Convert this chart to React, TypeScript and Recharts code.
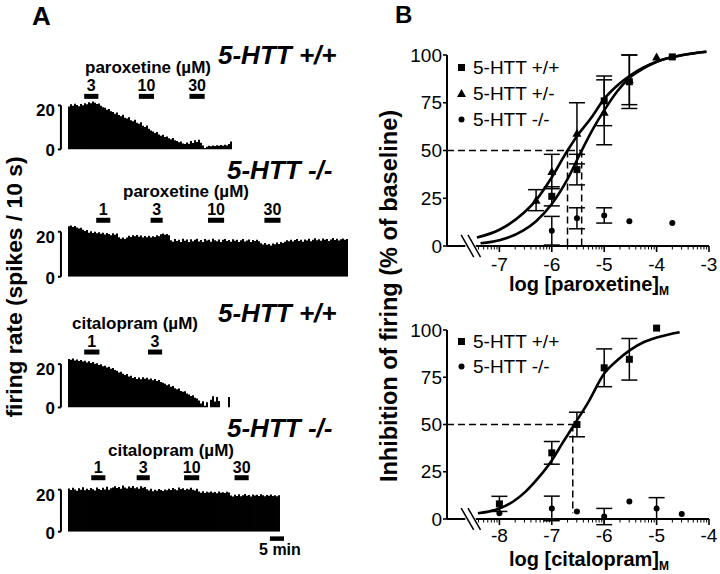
import React from "react";
import {
  Bar,
  BarChart,
  ComposedChart,
  ErrorBar,
  Legend,
  Line,
  ReferenceLine,
  Scatter,
  XAxis,
  YAxis,
} from "recharts";

const FONT = "'Liberation Sans', Arial, Helvetica, sans-serif";
const INK = "#000";

// ---------- A: firing rate (spikes / 10 s), one value per time bin ----------
const wtParoxRate = [
  19.5, 20.5, 19.8, 20.8, 20.2, 19.6, 20.6, 20.1, 21.0, 20.5,
  21.4, 21.0, 21.8, 21.2, 20.6, 20.9, 19.8, 19.2, 18.9, 18.0,
  18.4, 17.3, 17.0, 16.2, 16.8, 15.6, 15.1, 15.7, 14.4, 14.0,
  14.6, 13.2, 12.8, 13.5, 12.1, 11.6, 12.3, 10.8, 10.2, 10.9,
  9.4, 8.6, 8.1, 7.4, 7.9, 6.8, 6.2, 6.7, 5.6, 5.9,
  5.1, 4.6, 5.2, 4.1, 3.8, 3.2, 3.6, 2.7, 2.4, 3.1,
  2.6, 3.8, 2.9, 4.2, 3.4, 4.4, 3.0, 1.8, 0.6, 1.2,
  1.6, 1.4, 1.8, 1.5, 1.9, 1.6, 2.0, 1.7, 2.1, 1.8,
  2.4, 3.6,
];
const koParoxRate = [
  22.5, 22.8, 22.1, 22.6, 21.9, 21.4, 21.8, 20.9,
  20.3, 20.8, 19.6, 20.2, 19.4, 20.0, 19.3,
  19.8, 19.1, 19.6, 18.8, 19.5, 19.0, 18.5, 19.3, 18.7, 19.2,
  17.6, 16.9, 17.4, 16.8, 17.5, 18.2, 17.7, 18.4,
  18.0, 18.6, 17.8, 18.3, 17.5, 18.1, 17.6, 18.2, 17.4, 18.0, 17.7, 18.4, 18.0,
  18.9, 19.2, 18.7, 19.0, 18.5,
  16.2, 15.6, 16.8, 15.9, 16.5, 15.4, 16.9, 16.0, 16.6, 15.5,
  16.7, 15.8, 16.4, 16.9, 15.7, 16.3, 15.4, 16.8, 16.1, 16.5,
  15.6, 16.9, 16.2, 15.8, 16.6, 15.5, 16.4, 16.8, 15.9, 16.3,
  15.6, 16.7, 16.0, 16.5, 15.4, 16.2, 16.8, 15.7, 16.1, 16.6,
  15.5, 16.3, 15.9, 16.4, 15.8,
  14.9, 14.3, 15.0, 14.2, 14.6, 13.9, 14.8, 14.4, 15.2, 14.6, 15.4, 15.0,
  15.6, 16.2, 15.8, 16.5, 15.7, 16.3, 16.8, 15.9, 16.4, 15.6,
  16.6, 16.1, 16.9, 15.8, 16.5, 17.1, 16.2, 16.7, 16.0, 17.0,
  16.4, 16.8, 15.9, 16.6, 17.2, 16.3, 16.9, 16.1, 16.7, 17.0,
  16.4, 16.8,
];
const wtCitalRate = [
  22.4, 22.0, 22.6, 21.7, 22.1, 21.5, 21.9, 21.2,
  21.6, 20.8, 21.3, 20.5, 21.0, 20.2,
  20.4, 19.6, 19.9, 19.0, 19.3, 18.5,
  18.8, 17.9, 18.2, 17.3, 17.0, 16.2,
  16.5, 15.6, 15.0, 15.4, 14.3, 14.7,
  13.6, 14.1, 13.2, 13.8, 13.0, 13.9, 13.3, 13.7, 12.9,
  13.4, 12.6, 13.1, 12.2, 12.7, 11.8,
  11.4, 11.0, 10.3, 10.7, 9.6, 9.9,
  8.9, 8.4, 8.7, 7.6, 7.2, 7.5,
  6.4, 6.0, 5.3, 5.6, 4.5, 4.1,
  3.2, 1.8, 2.9, 0.8, 2.4,
  0, 3.6, 5.2, 2.8, 4.8, 3.0,
  0, 0, 0, 0,
  4.8, 0,
];
const koCitalRate = [
  20.6, 19.8, 20.9, 20.1, 19.5, 20.7, 20.0, 21.2, 19.7, 20.4,
  19.9, 20.8, 20.2, 19.6, 21.0, 20.3, 19.8, 20.9, 20.1, 21.4,
  20.0, 20.7, 21.1,
  21.6, 20.8, 21.3, 20.4, 22.0, 21.1, 20.6, 21.5, 20.9, 21.8,
  20.7, 21.2, 20.5, 21.6, 20.9, 21.3,
  20.2, 19.6, 20.5, 19.3, 20.0, 19.5, 20.3, 19.8, 19.4, 20.1, 19.7,
  20.4, 19.9, 20.8, 20.2, 19.7, 21.0, 20.3, 20.7, 19.9, 20.5,
  20.1, 20.9, 20.0, 19.6, 20.4,
  19.1, 18.6, 19.3, 18.4, 19.0, 18.7, 19.2, 18.5, 18.9, 18.3,
  19.1, 18.6, 18.8, 18.4, 19.0, 18.7,
  17.2, 16.8, 17.6, 17.0, 17.8, 16.9, 17.4, 17.9, 17.1, 17.5,
  16.8, 17.7, 17.2, 17.6, 17.0, 17.8, 17.3, 16.9, 17.5, 17.1,
  17.7, 17.0, 17.4, 16.9, 17.3,
];
const rateTicks = [0, 20];

// drug applications, in time bins, dose in µM
const wtParoxDrugs = [
  { from: 8, to: 15, dose: "3" },
  { from: 35, to: 42.5, dose: "10" },
  { from: 60, to: 67.5, dose: "30" },
];
const koParoxDrugs = [
  { from: 14, to: 21, dose: "1" },
  { from: 41, to: 47, dose: "3" },
  { from: 69.5, to: 77.5, dose: "10" },
  { from: 97.5, to: 105.5, dose: "30" },
];
const wtCitalDrugs = [
  { from: 8, to: 15.5, dose: "1" },
  { from: 39.5, to: 46.5, dose: "3" },
];
const koCitalDrugs = [
  { from: 11.5, to: 18.5, dose: "1" },
  { from: 34, to: 40.5, dose: "3" },
  { from: 57.5, to: 65, dose: "10" },
  { from: 82.5, to: 89.5, dose: "30" },
];
const scaleBar = { from: 100, to: 107, label: "5 min" };

// ---------- B: inhibition of firing (% of baseline) vs log[drug]M ----------
const paroxTicks = [-7, -6, -5, -4, -3];
const paroxWtX = [-6, -5.52, -5, -4.52, -3.7];
const paroxWtY = [26, 40, 76, 86, 99];
const paroxWtErr = [5, 8, 13, 14, 0];
const paroxHetX = [-6.3, -6, -5.52, -5, -4.52, -4];
const paroxHetY = [24, 39, 59, 70, 87, 99];
const paroxHetErr = [5.5, 9, 16, 17, 13, 0];
const paroxKoX = [-6, -5.52, -5, -4.52, -3.7];
const paroxKoY = [8, 14.5, 16, 13, 12];
const paroxKoErr = [7.5, 5.5, 4, 0, 0];
const paroxWtFitX = [-7.36, -7, -6.55, -6.3, -6, -5.7, -5.43, -5.2, -5, -4.75, -4.52, -4.25, -4, -3.5, -3.05];
const paroxWtFitY = [1.4, 3, 8, 13, 22, 35, 50, 62, 71, 81, 88, 93, 96.5, 100, 101.7];
const paroxHetFitX = [-7.43, -7, -6.55, -6.3, -6, -5.7, -5.52, -5.25, -5, -4.75, -4.52, -4.25, -4, -3.5, -3.05];
const paroxHetFitY = [4.4, 8.5, 17, 24, 36, 50, 57.5, 67, 77, 84, 89, 93.5, 96.5, 100, 101.7];
const paroxEC50 = [-5.7, -5.43];

const citalTicks = [-8, -7, -6, -5, -4];
const citalWtX = [-8, -7, -6.52, -6, -5.52, -5];
const citalWtY = [8, 35, 50, 80, 84.5, 101];
const citalWtErr = [4, 6, 6.5, 10, 11, 0];
const citalKoX = [-8, -7, -6.52, -6, -5.52, -5, -4.52];
const citalKoY = [3, 5.6, 4, 1.3, 9.2, 5.6, 2.6];
const citalKoErr = [0, 6.5, 0, 4.3, 0, 5.7, 0];
const citalWtFitX = [-8.41, -8, -7.75, -7.5, -7.25, -7, -6.8, -6.57, -6.3, -6, -5.75, -5.5, -5.25, -5, -4.75, -4.56];
const citalWtFitY = [3, 5.6, 9, 14.5, 22, 31, 40, 50, 62, 77, 84, 89.5, 93.5, 96, 97.8, 98.8];
const citalEC50 = -6.6;

const zipPts = (xs: number[], ys: number[], es: number[]) =>
  xs.map((x, i) => ({ x, y: ys[i], err: es[i] }));
const zipFit = (xs: number[], ys: number[]) => xs.map((x, i) => ({ x, y: ys[i] }));

// marker shapes
const Square = (p: any) => (
  <rect x={p.cx - 3.5} y={p.cy - 3.5} width={7} height={7} fill={INK} />
);
const Triangle = (p: any) => (
  <polygon
    points={`${p.cx},${p.cy - 4.5} ${p.cx + 4.5},${p.cy + 3.5} ${p.cx - 4.5},${p.cy + 3.5}`}
    fill={INK}
  />
);
const Dot = (p: any) => <circle cx={p.cx} cy={p.cy} r={3} fill={INK} />;

function Txt({ x, y, size, italic, weight = "bold", center, rotate, children }: any) {
  const tx = center || rotate ? "-50%" : "0";
  return (
    <div
      style={{
        position: "absolute",
        left: x,
        top: y,
        fontSize: size,
        fontWeight: weight,
        fontStyle: italic ? "italic" : "normal",
        lineHeight: 1,
        whiteSpace: "nowrap",
        transform: `translate(${tx}, -50%)${rotate ? " rotate(-90deg)" : ""}`,
      }}
    >
      {children}
    </div>
  );
}

function RateTick(props: any) {
  const { x, y, payload } = props;
  const shift = payload.value === 20 ? 5.5 : 1.5;
  return (
    <text
      x={x}
      y={y + shift}
      textAnchor="end"
      dominantBaseline="central"
      fontFamily={FONT}
      fontWeight="bold"
      fontSize={17}
      fill={INK}
    >
      {payload.value}
    </text>
  );
}

type Drug = { from: number; to: number; dose: string };

function Histogram({
  values,
  drugs,
  base,
  k,
  markY,
  scale,
}: {
  values: number[];
  drugs: Drug[];
  base: number;
  k: number;
  markY: number;
  scale?: { from: number; to: number; label: string };
}) {
  const n = values.length;
  const yMax = 27;
  const plotH = yMax * k;
  const mTop = 22;
  const mBottom = scale ? 28 : 12;
  const data = values.map((rate, bin) => ({ bin, rate }));
  const edge = { stroke: INK, strokeWidth: 2, ifOverflow: "visible" as const, xAxisId: "t" };
  const labelStyle = { fill: INK, fontSize: 16, fontWeight: "bold", fontFamily: FONT };
  return (
    <div style={{ position: "absolute", left: 0, top: base - plotH - mTop }}>
      <BarChart
        width={68 + 2 * n + 22}
        height={mTop + plotH + mBottom}
        data={data}
        margin={{ top: mTop, right: 22, bottom: mBottom, left: 0 }}
        barCategoryGap={0}
        barGap={0}
      >
        <XAxis xAxisId="bins" dataKey="bin" hide />
        <XAxis xAxisId="t" type="number" domain={[0, n]} allowDataOverflow hide />
        <YAxis
          domain={[0, yMax]}
          allowDataOverflow
          ticks={rateTicks}
          width={68}
          axisLine={false}
          tickLine={false}
          tickSize={0}
          tickMargin={13}
          tick={RateTick}
        />
        <Bar xAxisId="bins" dataKey="rate" fill={INK} isAnimationActive={false} />
        <ReferenceLine {...edge} segment={[{ x: -3.5, y: 0 }, { x: -3.5, y: 20 }]} />
        <ReferenceLine {...edge} segment={[{ x: -5, y: 20 }, { x: -3.5, y: 20 }]} />
        <ReferenceLine {...edge} segment={[{ x: -5, y: 0 }, { x: -3.5, y: 0 }]} />
        {drugs.map((d) => (
          <ReferenceLine
            key={d.from}
            xAxisId="t"
            segment={[{ x: d.from, y: markY }, { x: d.to, y: markY }]}
            stroke={INK}
            strokeWidth={5}
            ifOverflow="visible"
            label={{ value: d.dose, position: "top", offset: 5, ...labelStyle }}
          />
        ))}
        {scale && (
          <ReferenceLine
            xAxisId="t"
            segment={[{ x: scale.from, y: -3.3 }, { x: scale.to, y: -3.3 }]}
            stroke={INK}
            strokeWidth={4.5}
            ifOverflow="visible"
            label={{ value: scale.label, position: "bottom", offset: 5, dx: 3, ...labelStyle }}
          />
        )}
      </BarChart>
    </div>
  );
}

function logTicks(lo: number, hi: number) {
  const out: number[] = [];
  for (let m = 4; m < 10; m++) out.push(lo + Math.log10(m));
  for (let d = lo + 1; d < hi; d++) {
    out.push(d);
    for (let m = 2; m < 10; m++) out.push(d + Math.log10(m));
  }
  out.push(hi);
  return out;
}

type Group = { name: string; shape: (p: any) => any; points: { x: number; y: number; err: number }[] };

function LegendBox({ groups, rowH }: { groups: Group[]; rowH: number }) {
  return (
    <div style={{ fontFamily: FONT, fontSize: 19, color: INK, lineHeight: 1 }}>
      {groups.map((g) => (
        <div key={g.name} style={{ display: "flex", alignItems: "center", height: rowH, whiteSpace: "nowrap" }}>
          <svg width={13} height={13} style={{ display: "block" }}>
            {g.shape({ cx: 6.5, cy: 6.5 })}
          </svg>
          <span style={{ marginLeft: 5 }}>{g.name}</span>
        </div>
      ))}
    </div>
  );
}

function DoseChart({
  top,
  height,
  mTop,
  mBottom,
  lo,
  hi,
  majors,
  fits,
  groups,
  legendTop,
  rowH,
  dashes,
  labelGap,
}: any) {
  const ticks = logTicks(lo, hi);
  const renderTick = (p: any) => {
    const v = p.payload.value;
    const major = majors.includes(v);
    return (
      <g>
        <line x1={p.x} x2={p.x} y1={p.y} y2={p.y + (major ? 6 : 3.5)} stroke={INK} strokeWidth={major ? 1.6 : 1} />
        {major && (
          <text
            x={p.x}
            y={p.y + labelGap}
            textAnchor="middle"
            dominantBaseline="central"
            fontFamily={FONT}
            fontSize={19}
            fill={INK}
          >
            {String(v)}
          </text>
        )}
      </g>
    );
  };
  const axis = { stroke: INK, strokeWidth: 2, ifOverflow: "visible" as const };
  return (
    <div style={{ position: "absolute", left: 360, top }}>
      <ComposedChart width={360} height={height} margin={{ top: mTop, right: 11, bottom: mBottom, left: 27 }}>
        <XAxis
          type="number"
          dataKey="x"
          domain={[lo, hi]}
          allowDataOverflow
          ticks={ticks}
          interval={0}
          tickLine={false}
          axisLine={false}
          tickSize={0}
          tickMargin={0}
          height={30}
          tick={renderTick}
        />
        <YAxis
          type="number"
          domain={[0, 105]}
          allowDataOverflow
          ticks={[0, 25, 50, 75, 100]}
          width={60}
          axisLine={false}
          stroke={INK}
          tickSize={4}
          tickMargin={1}
          tickLine={{ stroke: INK, strokeWidth: 1.6 }}
          tick={{ fill: INK, fontSize: 19, fontFamily: FONT }}
        />
        <ReferenceLine {...axis} segment={[{ x: lo, y: 0 }, { x: lo, y: 100 }]} />
        <ReferenceLine {...axis} segment={[{ x: lo, y: 0 }, { x: lo + 0.35, y: 0 }]} />
        <ReferenceLine {...axis} segment={[{ x: lo + 0.55, y: 0 }, { x: hi, y: 0 }]} />
        <ReferenceLine {...axis} strokeWidth={1.5} segment={[{ x: lo + 0.27, y: 5.8 }, { x: lo + 0.51, y: -5.8 }]} />
        <ReferenceLine {...axis} strokeWidth={1.5} segment={[{ x: lo + 0.4, y: 5.8 }, { x: lo + 0.64, y: -5.8 }]} />
        {dashes.map((s: any, i: number) => (
          <ReferenceLine key={i} segment={s} stroke={INK} strokeWidth={1.5} strokeDasharray="7 4" ifOverflow="visible" />
        ))}
        {fits.map((f: any, i: number) => (
          <Line
            key={i}
            data={f}
            dataKey="y"
            type="monotone"
            stroke={INK}
            strokeWidth={2.6}
            dot={false}
            activeDot={false}
            legendType="none"
            isAnimationActive={false}
          />
        ))}
        {groups.map((g: Group) => (
          <Scatter key={g.name} name={g.name} data={g.points} dataKey="y" shape={g.shape} isAnimationActive={false}>
            <ErrorBar dataKey="err" direction="y" width={8} strokeWidth={1.5} stroke={INK} />
          </Scatter>
        ))}
        <Legend
          layout="vertical"
          align="center"
          verticalAlign="middle"
          wrapperStyle={{ left: 95, top: legendTop, width: "auto", height: "auto" }}
          content={() => <LegendBox groups={groups} rowH={rowH} />}
        />
      </ComposedChart>
    </div>
  );
}

export default function App() {
  const paroxGroups: Group[] = [
    { name: "5-HTT +/+", shape: Square, points: zipPts(paroxWtX, paroxWtY, paroxWtErr) },
    { name: "5-HTT +/-", shape: Triangle, points: zipPts(paroxHetX, paroxHetY, paroxHetErr) },
    { name: "5-HTT -/-", shape: Dot, points: zipPts(paroxKoX, paroxKoY, paroxKoErr) },
  ];
  const citalGroups: Group[] = [
    { name: "5-HTT +/+", shape: Square, points: zipPts(citalWtX, citalWtY, citalWtErr) },
    { name: "5-HTT -/-", shape: Dot, points: zipPts(citalKoX, citalKoY, citalKoErr) },
  ];
  const paroxDashes = [
    [{ x: -8, y: 50 }, { x: paroxEC50[1], y: 50 }],
    [{ x: paroxEC50[0], y: 50 }, { x: paroxEC50[0], y: 0 }],
    [{ x: paroxEC50[1], y: 50 }, { x: paroxEC50[1], y: 0 }],
  ];
  const citalDashes = [
    [{ x: -9, y: 50 }, { x: citalEC50 + 0.05, y: 50 }],
    [{ x: citalEC50, y: 50 }, { x: citalEC50, y: 3 }],
  ];
  const sub = { fontSize: 12, position: "relative" as const, top: 4 };

  return (
    <div
      style={{
        position: "absolute",
        left: 0,
        top: 0,
        width: 720,
        height: 574,
        overflow: "hidden",
        background: "#fff",
        fontFamily: FONT,
        color: INK,
      }}
    >
      <Txt x={32} y={16} size={26}>A</Txt>
      <Txt x={395} y={15} size={24}>B</Txt>

      <Txt x={14} y={287} size={22.8} rotate>firing rate (spikes / 10 s)</Txt>
      <Txt x={390} y={296} size={23.5} rotate>Inhibition of firing (% of baseline)</Txt>

      <Txt x={218} y={55} size={26} italic>5-HTT +/+</Txt>
      <Txt x={85} y={67} size={17}>paroxetine (µM)</Txt>
      <Txt x={227} y={170} size={26} italic>5-HTT -/-</Txt>
      <Txt x={123} y={191} size={17}>paroxetine (µM)</Txt>
      <Txt x={218} y={313} size={26} italic>5-HTT +/+</Txt>
      <Txt x={72} y={323} size={17}>citalopram (µM)</Txt>
      <Txt x={227} y={428} size={26} italic>5-HTT -/-</Txt>
      <Txt x={108} y={450} size={17}>citalopram (µM)</Txt>

      <Histogram values={wtParoxRate} drugs={wtParoxDrugs} base={149} k={2.2} markY={24.1} />
      <Histogram values={koParoxRate} drugs={koParoxDrugs} base={277} k={2.25} markY={25.1} />
      <Histogram values={wtCitalRate} drugs={wtCitalDrugs} base={407.5} k={2.165} markY={25.6} />
      <Histogram values={koCitalRate} drugs={koCitalDrugs} base={532} k={2.1} markY={25.7} scale={scaleBar} />

      <DoseChart
        top={0}
        height={290}
        mTop={45.45}
        mBottom={14}
        lo={-8}
        hi={-3}
        majors={paroxTicks}
        fits={[zipFit(paroxWtFitX, paroxWtFitY), zipFit(paroxHetFitX, paroxHetFitY)]}
        groups={paroxGroups}
        legendTop={54}
        rowH={26}
        dashes={paroxDashes}
        labelGap={18}
      />
      <DoseChart
        top={290}
        height={284}
        mTop={30.55}
        mBottom={25}
        lo={-9}
        hi={-4}
        majors={citalTicks}
        fits={[zipFit(citalWtFitX, citalWtFitY)]}
        groups={citalGroups}
        legendTop={38.5}
        rowH={25}
        dashes={citalDashes}
        labelGap={16.5}
      />

      <Txt x={589} y={284} size={20} center>
        log [paroxetine]<span style={sub}>M</span>
      </Txt>
      <Txt x={589} y={559} size={20} center>
        log [citalopram]<span style={sub}>M</span>
      </Txt>
    </div>
  );
}
